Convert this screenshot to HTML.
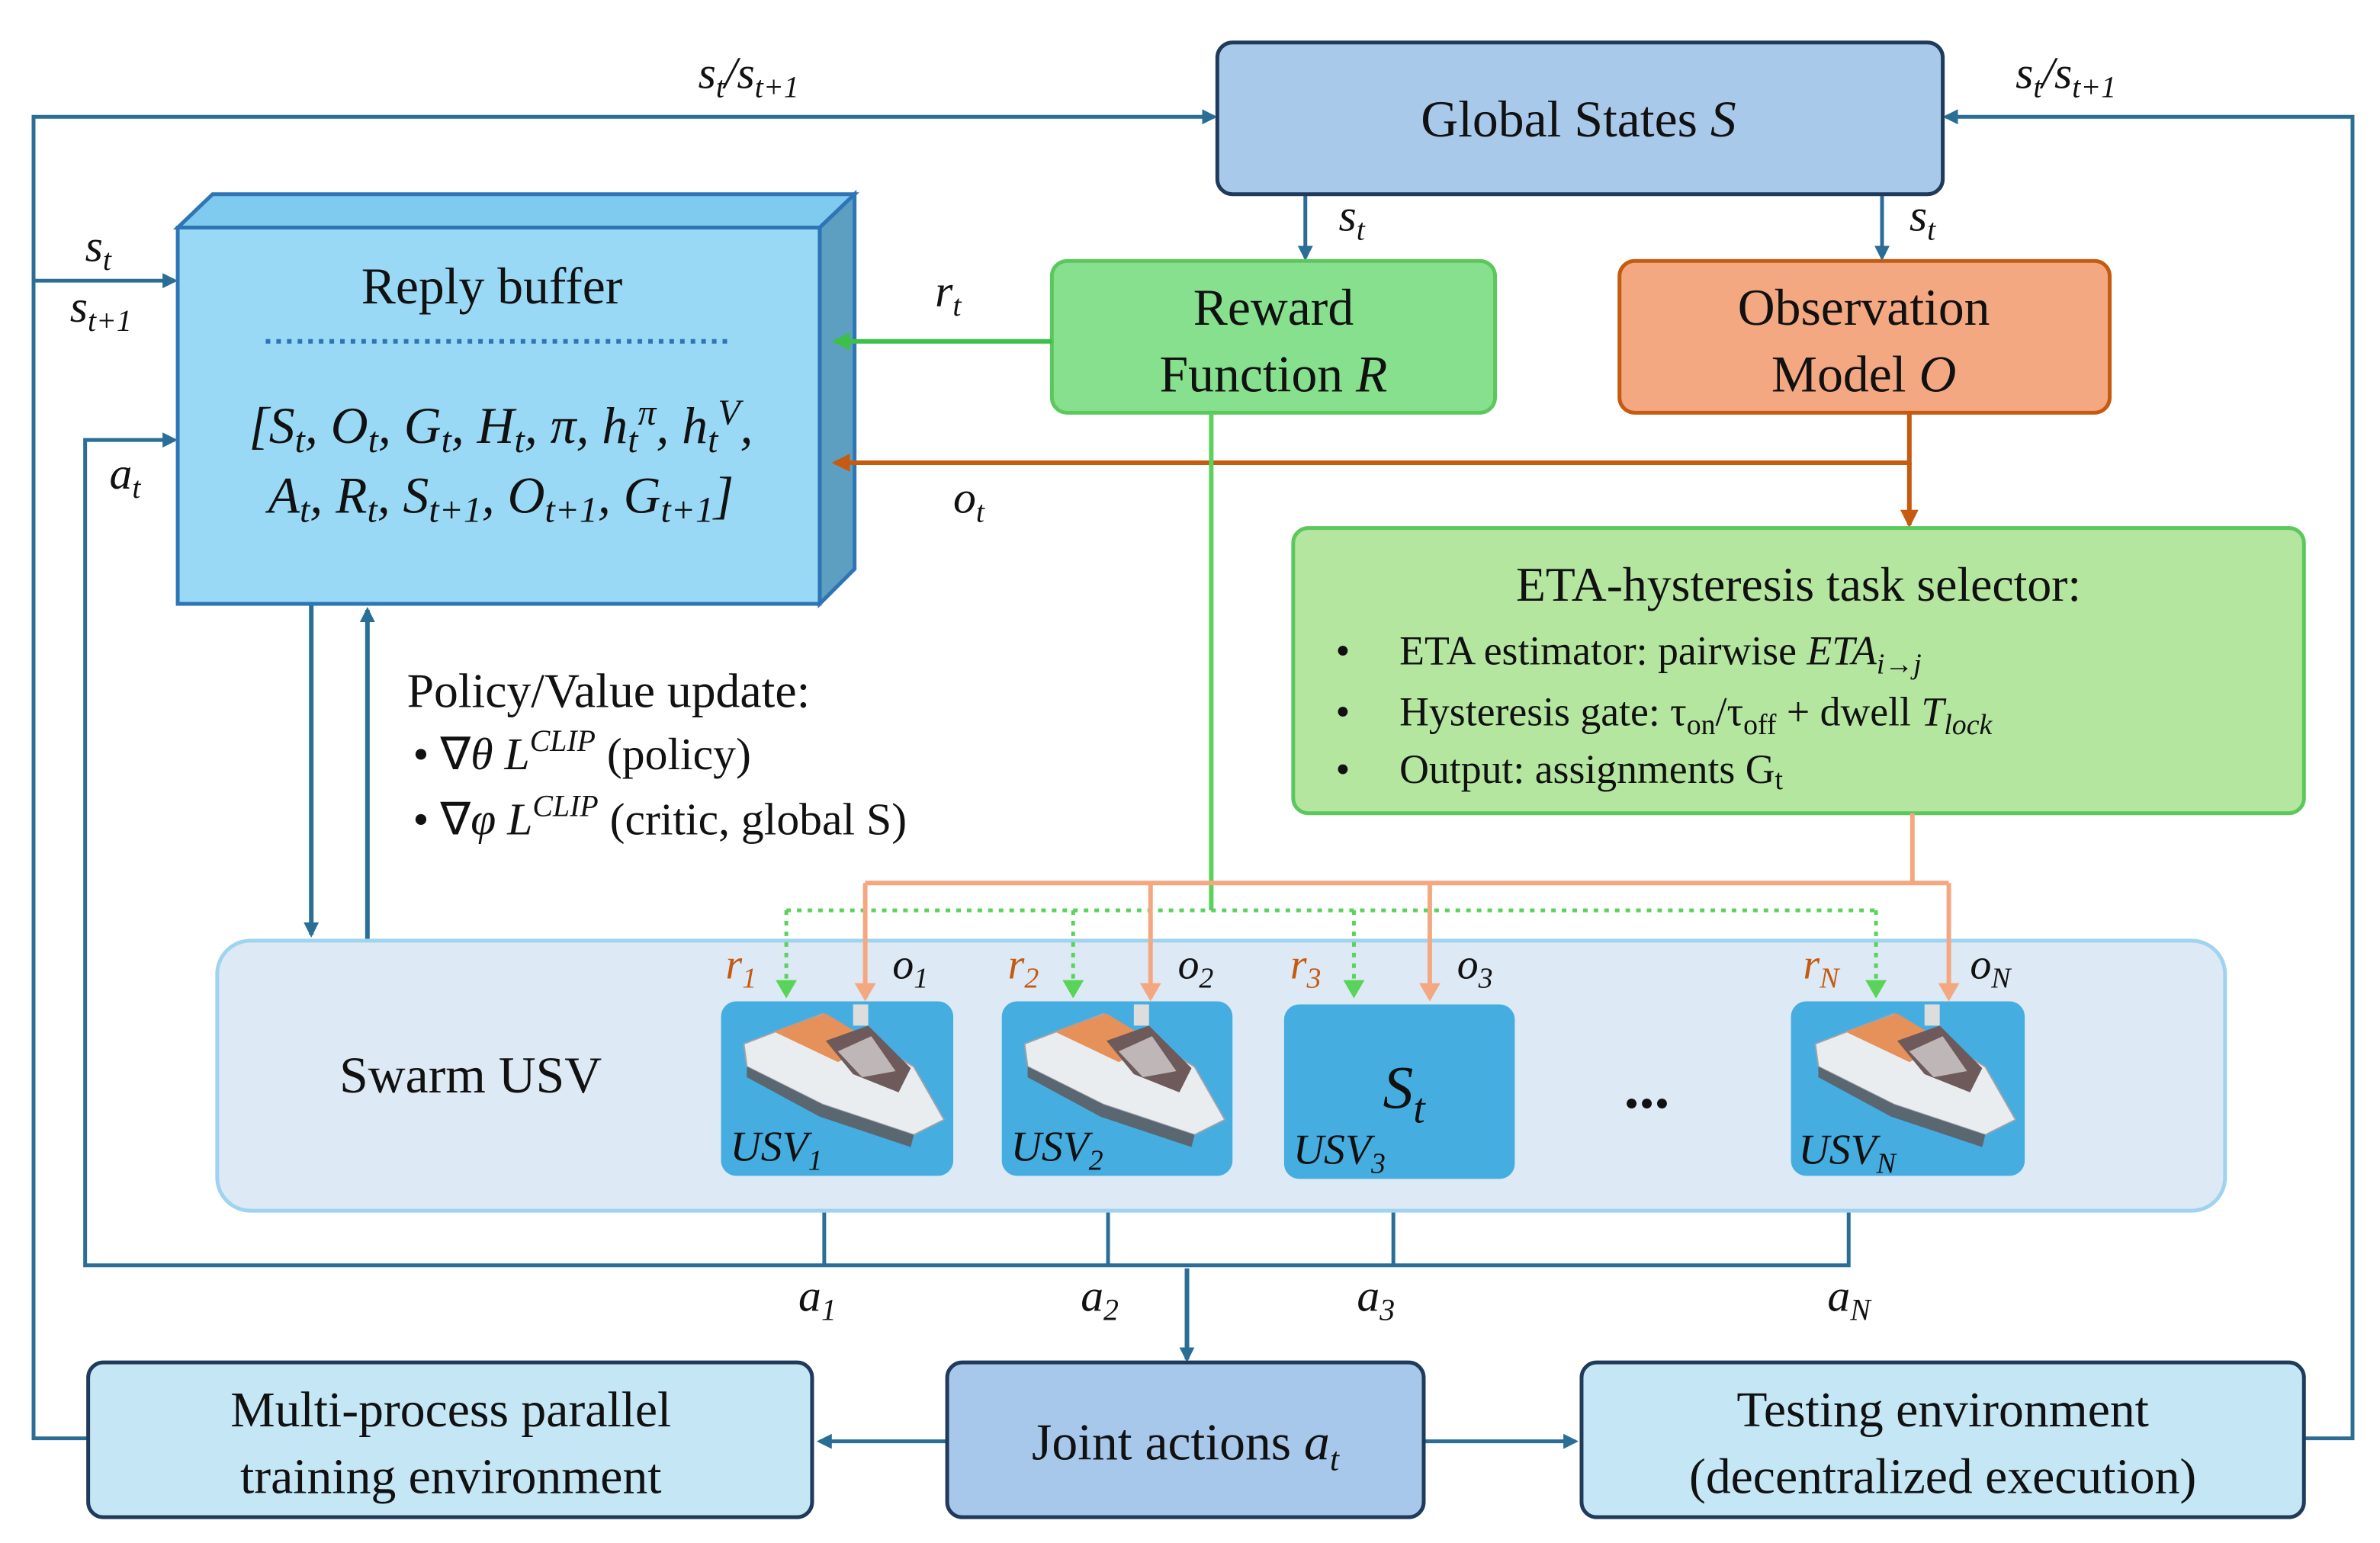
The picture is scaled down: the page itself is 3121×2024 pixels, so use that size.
<!DOCTYPE html>
<html><head><meta charset="utf-8">
<style>
html,body{margin:0;padding:0;background:#fff;}
svg{display:block;}
text{font-family:"Liberation Serif",serif;fill:#111;}
.i{font-style:italic;}
</style></head>
<body>
<svg width="3121" height="2024" viewBox="0 0 1568 1017" xmlns="http://www.w3.org/2000/svg">
<defs>
<marker id="ab" markerWidth="10" markerHeight="10" refX="8" refY="5" orient="auto" markerUnits="userSpaceOnUse"><path d="M0,0 L10,5 L0,10 z" fill="#2a6e96"/></marker>
<marker id="ag" markerWidth="12" markerHeight="12" refX="10" refY="6" orient="auto" markerUnits="userSpaceOnUse"><path d="M0,0 L12,6 L0,12 z" fill="#3cc04a"/></marker>
<marker id="ao" markerWidth="12" markerHeight="12" refX="10" refY="6" orient="auto" markerUnits="userSpaceOnUse"><path d="M0,0 L12,6 L0,12 z" fill="#c55a11"/></marker>
<marker id="ap" markerWidth="12" markerHeight="14" refX="10" refY="7" orient="auto" markerUnits="userSpaceOnUse"><path d="M0,0 L12,7 L0,14 z" fill="#f4a882"/></marker>
<marker id="agl" markerWidth="12" markerHeight="14" refX="10" refY="7" orient="auto" markerUnits="userSpaceOnUse"><path d="M0,0 L12,7 L0,14 z" fill="#5ad35a"/></marker>
<g id="boat">
  <path d="M8,40 L60,20 L120,55 L140,90 L120,100 L60,80 L10,55 z" fill="#e9edf0" stroke="#9aa4ad"/>
  <path d="M10,55 L60,80 L120,100 L118,108 L58,88 L10,62 z" fill="#5a6670"/>
  <path d="M28,32 L62,20 L95,40 L70,52 z" fill="#e6905a"/>
  <path d="M62,38 L90,28 L118,56 L110,72 L80,60 z" fill="#6e5a5a"/>
  <path d="M70,45 L92,35 L108,58 L86,62 z" fill="#f5f5f5" opacity="0.6"/>
  <rect x="80" y="14" width="10" height="14" fill="#ddd"/>
</g>
</defs>

<!-- Outer loop lines -->
<g stroke="#2a6e96" stroke-width="2.5" fill="none">
<polyline points="58,948 22,948 22,77 800,77" marker-end="url(#ab)"/>
<polyline points="1518,948 1550,948 1550,77 1282,77" marker-end="url(#ab)"/>
<line x1="22" y1="185" x2="115" y2="185" marker-end="url(#ab)"/>
<polyline points="1218,780 1218,834 56,834 56,290 115,290" marker-end="url(#ab)"/>
<line x1="543" y1="776" x2="543" y2="834"/>
<line x1="730" y1="776" x2="730" y2="834"/>
<line x1="918" y1="776" x2="918" y2="834"/>
<line x1="782" y1="836" x2="782" y2="896" stroke-width="3" marker-end="url(#ab)"/>
<line x1="205" y1="398" x2="205" y2="616" stroke-width="3" marker-end="url(#ab)"/>
<line x1="242" y1="620" x2="242" y2="402" stroke-width="3" marker-end="url(#ab)"/>
<line x1="860" y1="128" x2="860" y2="170" marker-end="url(#ab)"/>
<line x1="1240" y1="128" x2="1240" y2="170" marker-end="url(#ab)"/>
<line x1="624" y1="950" x2="540" y2="950" marker-end="url(#ab)"/>
<line x1="938" y1="950" x2="1038" y2="950" marker-end="url(#ab)"/>
</g>

<!-- Boxes -->
<rect x="802" y="28" width="478" height="100" rx="10" fill="#a9c9ea" stroke="#1f3a5a" stroke-width="2.5"/>
<text x="1040" y="90" font-size="34" text-anchor="middle">Global States <tspan class="i">S</tspan></text>

<!-- reply buffer 3D -->
<polygon points="117,150 140,128 563,128 540,150" fill="#7fcbef" stroke="#2e75b6" stroke-width="2.5"/>
<polygon points="540,150 563,128 563,375 540,398" fill="#5d9fc0" stroke="#2e75b6" stroke-width="2.5"/>
<rect x="117" y="150" width="423" height="248" fill="#99d9f5" stroke="#2e75b6" stroke-width="2.5"/>
<text x="324" y="200" font-size="34" text-anchor="middle">Reply buffer</text>
<line x1="175" y1="225" x2="480" y2="225" stroke="#2e75b6" stroke-width="3" stroke-dasharray="3,4"/>
<text x="330" y="292" font-size="34" text-anchor="middle" class="i">[S<tspan font-size="24" dy="6">t</tspan><tspan dy="-6">, O</tspan><tspan font-size="24" dy="6">t</tspan><tspan dy="-6">, G</tspan><tspan font-size="24" dy="6">t</tspan><tspan dy="-6">, H</tspan><tspan font-size="24" dy="6">t</tspan><tspan dy="-6">, π, h</tspan><tspan font-size="24" dy="6">t</tspan><tspan font-size="24" dy="-18">π</tspan><tspan dy="12">, h</tspan><tspan font-size="24" dy="6">t</tspan><tspan font-size="24" dy="-18">V</tspan><tspan dy="12">,</tspan></text>
<text x="330" y="338" font-size="34" text-anchor="middle" class="i">A<tspan font-size="24" dy="6">t</tspan><tspan dy="-6">, R</tspan><tspan font-size="24" dy="6">t</tspan><tspan dy="-6">, S</tspan><tspan font-size="24" dy="6">t+1</tspan><tspan dy="-6">, O</tspan><tspan font-size="24" dy="6">t+1</tspan><tspan dy="-6">, G</tspan><tspan font-size="24" dy="6">t+1</tspan><tspan dy="-6">]</tspan></text>

<rect x="693" y="172" width="292" height="100" rx="10" fill="#86e08e" stroke="#5cc85c" stroke-width="2.5"/>
<text x="839" y="214" font-size="34" text-anchor="middle">Reward</text>
<text x="839" y="258" font-size="34" text-anchor="middle">Function <tspan class="i">R</tspan></text>

<rect x="1067" y="172" width="323" height="100" rx="10" fill="#f4a882" stroke="#c55a11" stroke-width="2.5"/>
<text x="1228" y="214" font-size="34" text-anchor="middle">Observation</text>
<text x="1228" y="258" font-size="34" text-anchor="middle">Model <tspan class="i">O</tspan></text>

<!-- green/orange connectors -->
<line x1="693" y1="225" x2="550" y2="225" stroke="#3cc04a" stroke-width="3" marker-end="url(#ag)"/>
<polyline points="1258,272 1258,305 550,305" fill="none" stroke="#c55a11" stroke-width="3" marker-end="url(#ao)"/>
<line x1="1258" y1="305" x2="1258" y2="346" stroke="#c55a11" stroke-width="3" marker-end="url(#ao)"/>

<rect x="852" y="348" width="666" height="188" rx="10" fill="#b5e6a0" stroke="#5cc85c" stroke-width="2.5"/>
<text x="1185" y="396" font-size="32" text-anchor="middle">ETA-hysteresis task selector:</text>
<text x="880" y="438" font-size="27">•</text><text x="922" y="438" font-size="27">ETA estimator: pairwise <tspan class="i">ETA</tspan><tspan class="i" font-size="19" dy="6">i→j</tspan></text>
<text x="880" y="478" font-size="27">•</text><text x="922" y="478" font-size="27">Hysteresis gate: τ<tspan font-size="19" dy="6">on</tspan><tspan dy="-6">/τ</tspan><tspan font-size="19" dy="6">off</tspan><tspan dy="-6">  +  dwell </tspan><tspan class="i">T</tspan><tspan class="i" font-size="19" dy="6">lock</tspan></text>
<text x="880" y="516" font-size="27">•</text><text x="922" y="516" font-size="27">Output: assignments  G<tspan font-size="19" dy="4">t</tspan></text>

<text x="268" y="466" font-size="32">Policy/Value update:</text>
<text x="272" y="507" font-size="30">•  ∇<tspan class="i">θ L</tspan><tspan class="i" font-size="20" dy="-12">CLIP</tspan><tspan dy="12"> (policy)</tspan></text>
<text x="272" y="550" font-size="30">•  ∇<tspan class="i">φ L</tspan><tspan class="i" font-size="20" dy="-12">CLIP</tspan><tspan dy="12"> (critic, global S)</tspan></text>

<!-- Swarm container -->
<rect x="143" y="620" width="1323" height="178" rx="22" fill="#dde9f5" stroke="#9fd3ef" stroke-width="2.5"/>
<text x="310" y="720" font-size="34" text-anchor="middle">Swarm USV</text>

<!-- signal lines -->
<line x1="798" y1="272" x2="798" y2="600" stroke="#5ad35a" stroke-width="3"/>
<line x1="518" y1="600" x2="1236" y2="600" stroke="#5ad35a" stroke-width="2.5" stroke-dasharray="3,4"/>
<g stroke="#5ad35a" stroke-width="2.5" stroke-dasharray="3,4">
<line x1="518" y1="600" x2="518" y2="656" marker-end="url(#agl)"/>
<line x1="707" y1="600" x2="707" y2="656" marker-end="url(#agl)"/>
<line x1="892" y1="600" x2="892" y2="656" marker-end="url(#agl)"/>
<line x1="1236" y1="600" x2="1236" y2="656" marker-end="url(#agl)"/>
</g>
<polyline points="1260,536 1260,582" fill="none" stroke="#f4a882" stroke-width="3"/>
<line x1="570" y1="582" x2="1284" y2="582" stroke="#f4a882" stroke-width="3"/>
<g stroke="#f4a882" stroke-width="3">
<line x1="570" y1="582" x2="570" y2="658" marker-end="url(#ap)"/>
<line x1="758" y1="582" x2="758" y2="658" marker-end="url(#ap)"/>
<line x1="942" y1="582" x2="942" y2="658" marker-end="url(#ap)"/>
<line x1="1284" y1="582" x2="1284" y2="658" marker-end="url(#ap)"/>
</g>

<!-- tiles -->
<rect x="475" y="660" width="153" height="115" rx="10" fill="#45ade0"/>
<rect x="660" y="660" width="152" height="115" rx="10" fill="#45ade0"/>
<rect x="846" y="662" width="152" height="115" rx="10" fill="#45ade0"/>
<rect x="1180" y="660" width="154" height="115" rx="10" fill="#45ade0"/>
<use href="#boat" x="482" y="648"/>
<use href="#boat" x="667" y="648"/>
<use href="#boat" x="1188" y="648"/>
<text x="925" y="730" font-size="40" class="i" text-anchor="middle">S<tspan font-size="28" dy="10">t</tspan></text>
<text x="481" y="765" font-size="28" class="i">USV<tspan font-size="19" dy="6">1</tspan></text>
<text x="666" y="765" font-size="28" class="i">USV<tspan font-size="19" dy="6">2</tspan></text>
<text x="852" y="767" font-size="28" class="i">USV<tspan font-size="19" dy="6">3</tspan></text>
<text x="1185" y="767" font-size="28" class="i">USV<tspan font-size="19" dy="6">N</tspan></text>
<text x="1085" y="730" font-size="40" font-weight="bold" text-anchor="middle">...</text>

<!-- r/o labels -->
<g font-size="28" class="i">
<text x="478" y="645" style="fill:#c55a11">r<tspan font-size="19" dy="6">1</tspan></text>
<text x="588" y="645">o<tspan font-size="19" dy="6">1</tspan></text>
<text x="664" y="645" style="fill:#c55a11">r<tspan font-size="19" dy="6">2</tspan></text>
<text x="776" y="645">o<tspan font-size="19" dy="6">2</tspan></text>
<text x="850" y="645" style="fill:#c55a11">r<tspan font-size="19" dy="6">3</tspan></text>
<text x="960" y="645">o<tspan font-size="19" dy="6">3</tspan></text>
<text x="1188" y="645" style="fill:#c55a11">r<tspan font-size="19" dy="6">N</tspan></text>
<text x="1298" y="645">o<tspan font-size="19" dy="6">N</tspan></text>
</g>

<!-- misc labels -->
<g font-size="30" class="i">
<text x="460" y="58">s<tspan font-size="20" dy="6">t</tspan><tspan dy="-6">/s</tspan><tspan font-size="20" dy="6">t+1</tspan></text>
<text x="1328" y="58">s<tspan font-size="20" dy="6">t</tspan><tspan dy="-6">/s</tspan><tspan font-size="20" dy="6">t+1</tspan></text>
<text x="56" y="172">s<tspan font-size="20" dy="6">t</tspan></text>
<text x="46" y="212">s<tspan font-size="20" dy="6">t+1</tspan></text>
<text x="72" y="322">a<tspan font-size="20" dy="6">t</tspan></text>
<text x="882" y="152">s<tspan font-size="20" dy="6">t</tspan></text>
<text x="1258" y="152">s<tspan font-size="20" dy="6">t</tspan></text>
<text x="616" y="202">r<tspan font-size="20" dy="6">t</tspan></text>
<text x="628" y="338">o<tspan font-size="20" dy="6">t</tspan></text>
<text x="526" y="864">a<tspan font-size="20" dy="6">1</tspan></text>
<text x="712" y="864">a<tspan font-size="20" dy="6">2</tspan></text>
<text x="894" y="864">a<tspan font-size="20" dy="6">3</tspan></text>
<text x="1204" y="864">a<tspan font-size="20" dy="6">N</tspan></text>
</g>

<!-- bottom boxes -->
<rect x="58" y="898" width="477" height="102" rx="10" fill="#c5e6f5" stroke="#1f3a5a" stroke-width="2.5"/>
<text x="297" y="940" font-size="33" text-anchor="middle">Multi-process parallel</text>
<text x="297" y="984" font-size="33" text-anchor="middle">training environment</text>
<rect x="624" y="898" width="314" height="102" rx="10" fill="#a7c8ea" stroke="#1f3a5a" stroke-width="2.5"/>
<text x="781" y="962" font-size="34" text-anchor="middle">Joint actions <tspan class="i">a</tspan><tspan class="i" font-size="22" dy="7">t</tspan></text>
<rect x="1042" y="898" width="476" height="102" rx="10" fill="#c5e6f5" stroke="#1f3a5a" stroke-width="2.5"/>
<text x="1280" y="940" font-size="33" text-anchor="middle">Testing environment</text>
<text x="1280" y="984" font-size="33" text-anchor="middle">(decentralized execution)</text>
</svg>
</body></html>
